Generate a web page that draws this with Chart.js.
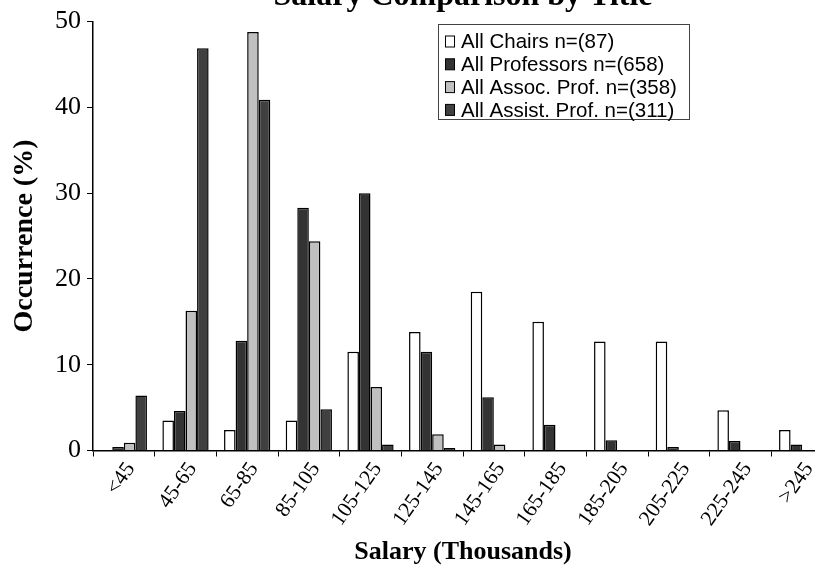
<!DOCTYPE html>
<html>
<head>
<meta charset="utf-8">
<script src="https://cdn.jsdelivr.net/npm/chart.js@4/dist/chart.umd.min.js"></script>
<style>
  html, body { margin: 0; padding: 0; background: #fff; overflow: hidden; }
  #wrap { width: 815px; height: 571px; overflow: hidden; }
</style>
</head>
<body>
<div id="wrap"><canvas id="canvas" width="833" height="571"></canvas></div>
<script>
const chartTitle = "Salary Comparison by Title";
const categories = ["<45", "45-65", "65-85", "85-105", "105-125", "125-145",
  "145-165", "165-185", "185-205", "205-225", "225-245", ">245"];

// percentages
const chairs     = [0, 3.5, 2.4, 3.5, 11.5, 13.8, 18.5, 15.0, 12.7, 12.7, 4.7, 2.4];
const professors = [0.4, 4.6, 12.8, 28.3, 30.0, 11.5, 6.2, 3.0, 1.2, 0.4, 1.1, 0.7];
const assocProf  = [0.9, 16.3, 48.8, 24.4, 7.4, 1.9, 0.7, 0, 0, 0, 0, 0];
const assistProf = [6.4, 46.9, 40.9, 4.8, 0.7, 0.3, 0, 0, 0, 0, 0, 0];

const seriesLabels = ["All Chairs n=(87)", "All Professors n=(658)",
  "All Assoc. Prof. n=(358)", "All Assist. Prof. n=(311)"];
const seriesColors = ["#ffffff", "#333333", "#c0c0c0", "#404040"];

const yTicks = [0, 10, 20, 30, 40, 50];

const serif = "'Liberation Serif', 'Times New Roman', serif";
const sans = "'Liberation Sans', Arial, sans-serif";

function makeSet(i, data) {
  return {
    label: seriesLabels[i],
    data: data,
    backgroundColor: seriesColors[i],
    borderColor: "#000",
    borderWidth: 1.5,
    categoryPercentage: 0.75,
    barPercentage: 1.0
  };
}

// title and boxed legend sitting inside the plot, like the original
const overlay = {
  id: "overlay",
  afterDraw(chart) {
    const ctx = chart.ctx;
    const area = chart.chartArea;
    ctx.save();

    ctx.fillStyle = "#000";
    ctx.font = "bold 32px " + serif;
    ctx.textAlign = "center";
    ctx.textBaseline = "alphabetic";
    ctx.fillText(chartTitle, (area.left + area.right) / 2, 5);

    const box = { x: 438.5, y: 24.5, w: 251, h: 95 };
    ctx.fillStyle = "#fff";
    ctx.fillRect(box.x, box.y, box.w, box.h);
    ctx.strokeStyle = "#444";
    ctx.lineWidth = 1;
    ctx.strokeRect(box.x, box.y, box.w, box.h);

    ctx.font = "20.5px " + sans;
    ctx.textAlign = "left";
    ctx.textBaseline = "middle";
    chart.data.datasets.forEach((ds, i) => {
      const cy = 41.5 + i * 22.8;
      ctx.fillStyle = ds.backgroundColor;
      ctx.fillRect(445.5, cy - 5.5, 9, 11);
      ctx.strokeStyle = "#000";
      ctx.strokeRect(445.5, cy - 5.5, 9, 11);
      ctx.fillStyle = "#000";
      ctx.fillText(ds.label, 461, cy + 1);
    });
    ctx.restore();
  }
};

new Chart(document.getElementById("canvas"), {
  type: "bar",
  data: {
    labels: categories,
    datasets: [
      makeSet(0, chairs),
      makeSet(1, professors),
      makeSet(2, assocProf),
      makeSet(3, assistProf)
    ]
  },
  options: {
    responsive: false,
    animation: false,
    devicePixelRatio: 1,
    layout: { padding: { top: 16.5, left: 0, right: 0, bottom: 0 } },
    plugins: {
      legend: { display: false },
      title: { display: false },
      tooltip: { enabled: false }
    },
    scales: {
      x: {
        afterFit: scale => { scale.height = 120.5; },
        grid: {
          offset: true,
          drawOnChartArea: false,
          drawTicks: true,
          tickLength: 6,
          color: "#000",
          lineWidth: 1
        },
        border: { color: "#000", width: 1.5 },
        ticks: {
          color: "#000",
          font: { family: serif, size: 21.5 },
          minRotation: 55,
          maxRotation: 55,
          labelOffset: 7,
          padding: 1,
          autoSkip: false
        },
        title: {
          display: true,
          text: "Salary (Thousands)",
          color: "#000",
          font: { family: serif, size: 26, weight: "bold" },
          padding: { top: 0, bottom: 3 }
        }
      },
      y: {
        min: 0,
        max: 50,
        afterFit: scale => { scale.width = 93; },
        afterBuildTicks: scale => { scale.ticks = yTicks.map(v => ({ value: v })); },
        grid: {
          drawOnChartArea: false,
          drawTicks: true,
          tickLength: 6,
          color: "#000",
          lineWidth: 1
        },
        border: { color: "#000", width: 1.5 },
        ticks: {
          color: "#000",
          font: { family: serif, size: 26 },
          padding: 6
        },
        title: {
          display: true,
          text: "Occurrence (%)",
          color: "#000",
          font: { family: serif, size: 28, weight: "bold" },
          padding: { top: 8, bottom: 0 }
        }
      }
    }
  },
  plugins: [overlay]
});
</script>
</body>
</html>
